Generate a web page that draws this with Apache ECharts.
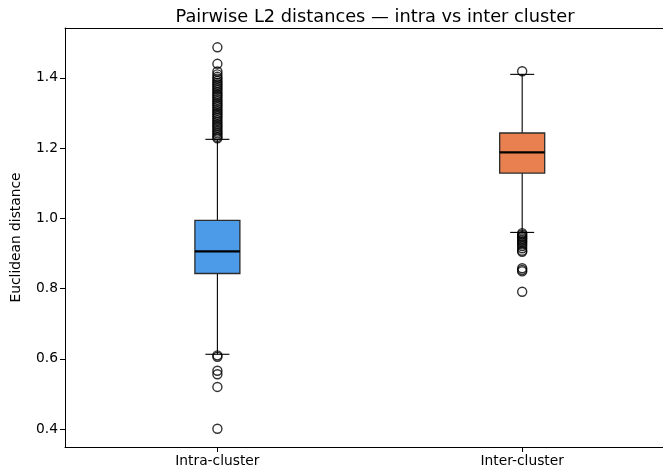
<!DOCTYPE html>
<html>
<head>
<meta charset="utf-8">
<script src="https://cdn.jsdelivr.net/npm/echarts@6/dist/echarts.min.js"></script>
<style>
  html, body { margin: 0; padding: 0; background: #fff; }
  #chart { width: 663px; height: 473px; }
</style>
</head>
<body>
<div id="chart"></div>
<script>
// Group names on the x axis
const categories = ['Intra-cluster', 'Inter-cluster'];

// Five-number summaries: [lower whisker, Q1, median, Q3, upper whisker]
const intraStats = [0.613, 0.843, 0.906, 0.994, 1.225];
const interStats = [0.960, 1.129, 1.188, 1.243, 1.410];

// Points beyond the whiskers
const intraOutliers = [
  1.487, 1.440, 1.418, 1.410, 1.403, 1.398, 1.392, 1.386, 1.381, 1.376,
  1.371, 1.366, 1.360, 1.354, 1.349, 1.344, 1.338, 1.333, 1.327, 1.322,
  1.317, 1.311, 1.306, 1.300, 1.295, 1.290, 1.285, 1.279, 1.274, 1.268,
  1.263, 1.258, 1.252, 1.247, 1.242, 1.237, 1.232, 1.228,
  0.610, 0.606, 0.566, 0.556, 0.520, 0.401
];
const interOutliers = [
  1.419,
  0.958, 0.954, 0.950, 0.947, 0.943, 0.939, 0.935, 0.931, 0.926, 0.921,
  0.915, 0.908, 0.905, 0.858, 0.853, 0.849, 0.791
];

// Y axis tick positions
const yTicks = [0.4, 0.6, 0.8, 1.0, 1.2, 1.4];

const boxColors = ['#4c9be8', '#e8804f'];
const FONT = 'DejaVu Sans';

const boxRows = [intraStats, interStats].map((s, i) => [i + 1].concat(s));
const outlierPoints = []
  .concat(intraOutliers.map(v => [1, v]))
  .concat(interOutliers.map(v => [2, v]));

function renderBox(params, api) {
  const x = api.value(0);
  const lo = api.coord([x, api.value(1)]);
  const q1 = api.coord([x, api.value(2)]);
  const md = api.coord([x, api.value(3)]);
  const q3 = api.coord([x, api.value(4)]);
  const hi = api.coord([x, api.value(5)]);
  const cx = lo[0];
  const boxW = 45;
  const capW = 24;
  const color = boxColors[params.dataIndex];
  const lineStyle = { stroke: '#000', lineWidth: 1.1, fill: null };
  return {
    type: 'group',
    children: [
      { type: 'line', shape: { x1: cx, y1: q3[1], x2: cx, y2: hi[1] }, style: lineStyle },
      { type: 'line', shape: { x1: cx, y1: q1[1], x2: cx, y2: lo[1] }, style: lineStyle },
      { type: 'line', shape: { x1: cx - capW / 2, y1: hi[1], x2: cx + capW / 2, y2: hi[1] }, style: lineStyle },
      { type: 'line', shape: { x1: cx - capW / 2, y1: lo[1], x2: cx + capW / 2, y2: lo[1] }, style: lineStyle },
      {
        type: 'rect',
        shape: { x: cx - boxW / 2, y: q3[1], width: boxW, height: q1[1] - q3[1] },
        style: { fill: color, stroke: '#2b2b2b', lineWidth: 1.3 }
      },
      { type: 'line', shape: { x1: cx - boxW / 2, y1: md[1], x2: cx + boxW / 2, y2: md[1] }, style: { stroke: '#000', lineWidth: 2.2 } }
    ]
  };
}

const chart = echarts.init(document.getElementById('chart'), null, { renderer: 'canvas' });
chart.setOption({
  animation: false,
  backgroundColor: '#fff',
  title: {
    text: 'Pairwise L2 distances \u2014 intra vs inter cluster',
    left: 370,
    top: 3,
    textAlign: 'center',
    textStyle: { fontFamily: FONT, fontSize: 17.8, fontWeight: 'normal', color: '#000' }
  },
  grid: { left: 65, right: 0, top: 28, bottom: 26, containLabel: false },
  xAxis: [{
    type: 'value',
    min: 0.5,
    max: 2.462,
    position: 'bottom',
    splitLine: { show: false },
    axisLine: { show: true, lineStyle: { color: '#000', width: 1 } },
    axisTick: { show: true, length: 5, lineStyle: { color: '#000' }, customValues: [1, 2] },
    axisLabel: {
      customValues: [1, 2],
      formatter: v => categories[Math.round(v) - 1] || '',
      fontFamily: FONT, fontSize: 13.8, color: '#000', margin: 7
    }
  }, {
    type: 'value',
    min: 0.5,
    max: 2.462,
    position: 'top',
    splitLine: { show: false },
    axisLine: { show: true, onZero: false, lineStyle: { color: '#000', width: 1 } },
    axisTick: { show: false },
    axisLabel: { show: false }
  }],
  yAxis: {
    type: 'value',
    min: 0.349,
    max: 1.542,
    name: 'Euclidean distance',
    nameLocation: 'middle',
    nameGap: 42,
    nameTextStyle: { fontFamily: FONT, fontSize: 13.8, color: '#000' },
    splitLine: { show: false },
    axisLine: { show: true, onZero: false, lineStyle: { color: '#000', width: 1 } },
    axisTick: { show: true, length: 5, lineStyle: { color: '#000' }, customValues: yTicks },
    axisLabel: {
      customValues: yTicks,
      formatter: v => v.toFixed(1),
      fontFamily: FONT, fontSize: 13.8, color: '#000', margin: 7
    }
  },
  series: [
    {
      type: 'custom',
      xAxisIndex: 0,
      renderItem: renderBox,
      data: boxRows,
      z: 2
    },
    {
      type: 'scatter',
      xAxisIndex: 0,
      data: outlierPoints,
      symbol: 'circle',
      symbolSize: 9,
      itemStyle: { color: 'rgba(0,0,0,0)', borderColor: '#000', borderWidth: 1.4 },
      z: 3
    }
  ]
});
</script>
</body>
</html>
